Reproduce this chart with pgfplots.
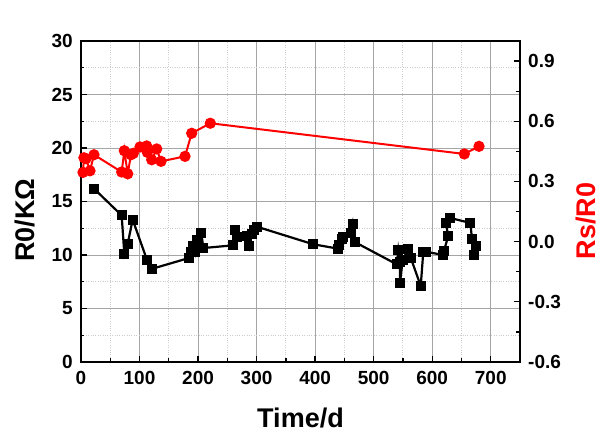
\documentclass[border=0pt]{standalone}
\usepackage{fontspec}
\setmainfont{Liberation Sans}
\usepackage{pgfplots}
\pgfplotsset{compat=1.18}
\definecolor{gridgray}{RGB}{165,165,165}
\definecolor{minorgray}{RGB}{205,205,205}
\begin{document}
\begin{tikzpicture}
\pgfplotsset{
  every axis/.append style={
    scale only axis, width=439pt, height=321pt,
    xmin=0, xmax=750,
    tick align=inside,
    major tick length=6pt, minor tick length=3.5pt,
    every tick/.style={black, line width=1.3pt},
    axis line style={-, line width=2pt},
    ticklabel style={font=\fontsize{19}{22}\selectfont\bfseries, inner sep=0pt},
    /pgf/number format/assume math mode=true,
    clip=false,
  }
}
\begin{axis}[at={(0,0)}, anchor=south west,
  ymin=0, ymax=30,
  xtick={0,100,...,700}, minor x tick num=1,
  ytick={0,5,...,30}, minor y tick num=1,
  xtick pos=left, ytick pos=left,
  grid=both,
  major grid style={gridgray, line width=0.9pt},
  minor grid style={minorgray, dotted, line width=0.9pt},
  xticklabel style={yshift=-9.5pt},
  yticklabel style={xshift=-8pt},
]
\addplot[black, line width=2.2pt, mark=square*, mark size=3.9pt, mark options={solid}] coordinates {
(22.2,16.2) (69.5,13.7) (74,10.1) (79.8,11.06) (88.3,13.3) (112.8,9.53) (120.8,8.7)
(184.5,9.72) (188,10.3) (191.9,10.87) (194.8,10.25) (197.7,11.4) (205.5,12.1) (209,10.65)
(259.2,10.9) (263,12.3) (266,11.7) (283,11.8) (287.5,10.8) (291.6,12.0) (295.6,12.3) (300.2,12.65)
(396.9,11.0) (438.6,10.6) (441.3,10.9) (445.4,11.46) (448.1,11.7) (461.3,12.1) (464.2,12.9) (468.1,11.2)
(539.4,9.13) (542.1,10.47) (545,9.38) (545,7.4) (549.6,9.5) (559.2,10.56) (563.3,9.75)
(580.4,7.1) (584.8,10.3) (589.4,10.3) (619,10.0) (620.2,10.4) (627.5,11.8) (623.1,12.96) (630.4,13.46)
(665.1,13.0) (668,11.5) (674.4,10.8) (671,9.97)
};
\node[rotate=90, anchor=base, font=\fontsize{27}{30}\selectfont\bfseries] at ([xshift=-46pt]rel axis cs:0,0.442) {R0/KΩ};
\node[anchor=base, font=\fontsize{27}{30}\selectfont\bfseries] at ([yshift=-66pt]rel axis cs:0.5,0) {Time/d};
\end{axis}
\begin{axis}[at={(0,0)}, anchor=south west,
  ymin=-0.6, ymax=1.0,
  axis x line=none, axis y line*=right,
  ytick={-0.6,-0.3,0,0.3,0.6,0.9}, minor y tick num=1,
  yticklabel style={xshift=8pt, /pgf/number format/.cd, fixed, fixed zerofill, precision=1},
]
\addplot[red, line width=2pt, mark=*, mark size=4.6pt, mark options={solid}] coordinates {
(3.4,0.345) (5,0.418) (8.5,0.413) (15.4,0.353) (22.2,0.433)
(69.5,0.347) (74,0.453) (79.8,0.338) (85.4,0.433) (89.4,0.44) (100.8,0.472)
(112.2,0.477) (113.3,0.445) (120.8,0.408) (129.3,0.462) (136.7,0.40)
(177.7,0.425) (189.1,0.54) (220.9,0.59) (654.9,0.437) (680,0.475)
};
\node[rotate=90, anchor=base, red, font=\fontsize{27}{30}\selectfont\bfseries] at ([xshift=75.5pt]rel axis cs:1,0.44) {Rs/R0};
\end{axis}
\pgfresetboundingbox
\path[use as bounding box] (-81pt,-71pt) rectangle (519pt,362pt);
\end{tikzpicture}
\end{document}
